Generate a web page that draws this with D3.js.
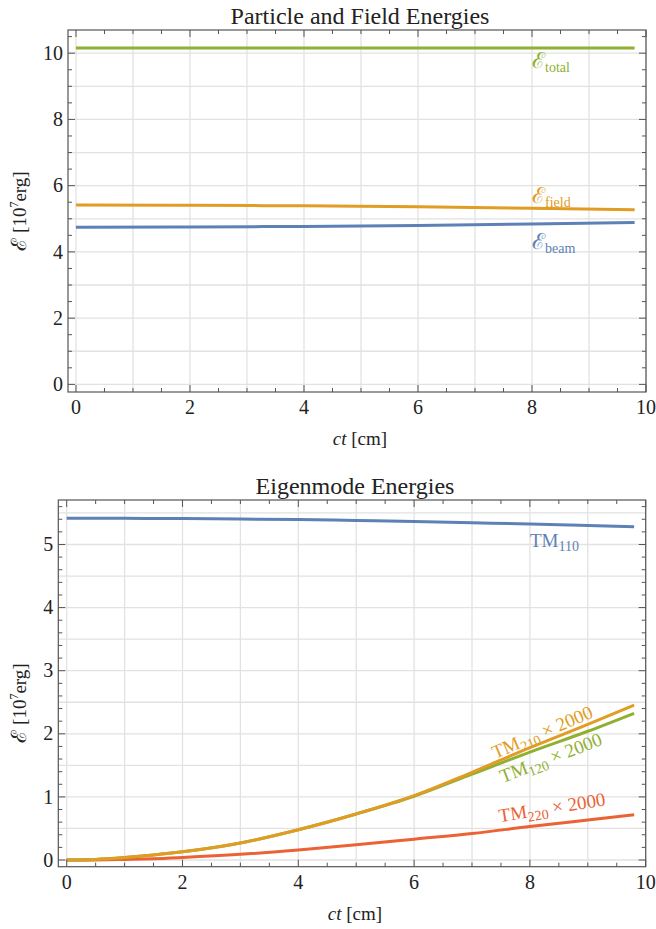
<!DOCTYPE html>
<html>
<head>
<meta charset="utf-8">
<script src="https://cdn.jsdelivr.net/npm/d3@7"></script>
<style>
  body { margin: 0; background: #fff; }
</style>
</head>
<body>
<svg id="chart" width="656" height="929"></svg>
<script>
// ---- data ----
const ctTop = [0, 2, 4, 6, 8, 9.8];
const eTotal = [10.16, 10.16, 10.16, 10.16, 10.16, 10.16];
const eField = [5.415, 5.405, 5.39, 5.36, 5.32, 5.27];
const eBeam = [4.745, 4.755, 4.77, 4.80, 4.84, 4.89];

const ctBottom = [0, 0.5, 1, 1.5, 2, 3, 4, 5, 6, 7, 8, 9, 9.8];
const tm110 = [5.415, 5.415, 5.414, 5.412, 5.41, 5.403, 5.395, 5.38, 5.365, 5.345, 5.325, 5.30, 5.28];
const tm210 = [0, 0.01, 0.04, 0.08, 0.13, 0.27, 0.48, 0.73, 1.02, 1.39, 1.78, 2.15, 2.456];
const tm120 = [0, 0.01, 0.04, 0.08, 0.13, 0.27, 0.48, 0.73, 1.01, 1.36, 1.71, 2.04, 2.325];
const tm220 = [0, 0.002, 0.01, 0.02, 0.04, 0.09, 0.16, 0.24, 0.33, 0.42, 0.53, 0.635, 0.718];

const xTickLabels = [0, 2, 4, 6, 8, 10];
const yTickLabelsTop = [0, 2, 4, 6, 8, 10];
const yTickLabelsBottom = [0, 1, 2, 3, 4, 5];

const blue = '#5e81b5', orange = '#e19c24', green = '#8fb032', red = '#eb6235';
const serif = "'Liberation Serif', 'Times New Roman', Times, 'DejaVu Serif', serif";

const svg = d3.select('#chart')
  .attr('font-family', serif)
  .style('font-family', serif);

function drawPanel(p) {
  const x = d3.scaleLinear().domain(p.xDomain).range([p.left, p.right]);
  const y = d3.scaleLinear().domain(p.yDomain).range([p.bottom, p.top]);
  const g = svg.append('g').attr('fill', '#222');

  // grid
  g.selectAll('.gx').data(d3.range(0, 10.001, 1)).enter().append('line')
    .attr('x1', d => x(d)).attr('x2', d => x(d))
    .attr('y1', p.top).attr('y2', p.bottom)
    .attr('stroke', '#e2e2e2').attr('stroke-width', 1.3);
  g.selectAll('.gy').data(p.gridY).enter().append('line')
    .attr('y1', d => y(d)).attr('y2', d => y(d))
    .attr('x1', p.left).attr('x2', p.right)
    .attr('stroke', '#e2e2e2').attr('stroke-width', 1.3);

  // series
  const line = d3.line().x(d => x(d[0])).y(d => y(d[1])).curve(d3.curveMonotoneX);
  p.series.forEach(s => {
    g.append('path')
      .datum(p.xs.map((v, i) => [v, s.values[i]]))
      .attr('fill', 'none').attr('stroke', s.color)
      .attr('stroke-width', 3).attr('d', line);
  });

  // frame
  g.append('rect')
    .attr('x', p.left).attr('y', p.top)
    .attr('width', p.right - p.left).attr('height', p.bottom - p.top)
    .attr('fill', 'none').attr('stroke', '#555').attr('stroke-width', 1.2);

  // ticks
  const xMinor = d3.range(0, 10.001, 0.5);
  g.selectAll('.tx').data(xMinor).enter().append('path')
    .attr('d', d => {
      const len = xTickLabels.includes(d) ? 7 : 4;
      return `M${x(d)},${p.bottom}v${-len}M${x(d)},${p.top}v${len}`;
    })
    .attr('stroke', '#555').attr('stroke-width', 1);
  g.selectAll('.ty').data(p.minorY).enter().append('path')
    .attr('d', d => {
      const len = p.yTicks.some(t => Math.abs(t - d) < 1e-6) ? 7 : 4;
      return `M${p.left},${y(d)}h${len}M${p.right},${y(d)}h${-len}`;
    })
    .attr('stroke', '#555').attr('stroke-width', 1);

  // tick labels
  g.selectAll('.lx').data(xTickLabels).enter().append('text')
    .attr('x', d => x(d)).attr('y', p.bottom + 22)
    .attr('text-anchor', 'middle').attr('font-size', 20)
    .text(d => d);
  g.selectAll('.ly').data(p.yTicks).enter().append('text')
    .attr('x', p.left - 5).attr('y', d => y(d)).attr('dy', '0.33em')
    .attr('text-anchor', 'end').attr('font-size', 20)
    .text(d => d);

  // title
  g.append('text')
    .attr('x', (p.left + p.right) / 2 + 3).attr('y', p.top - 6)
    .attr('text-anchor', 'middle').attr('font-size', 24)
    .text(p.title);

  // x label
  const xl = g.append('text')
    .attr('x', (p.left + p.right) / 2 + 3).attr('y', p.bottom + 53)
    .attr('text-anchor', 'middle').attr('font-size', 19);
  xl.append('tspan').attr('font-style', 'italic').text('ct');
  xl.append('tspan').text(' [cm]');

  // y label
  const yl = g.append('text')
    .attr('transform', `translate(26,${p.yLabelCenter}) rotate(-90)`)
    .attr('text-anchor', 'middle').attr('font-size', 19);
  yl.append('tspan').attr('font-size', 21).text('ℰ');
  yl.append('tspan').text(' [10');
  yl.append('tspan').attr('font-size', 12).attr('dy', -8).text('7');
  yl.append('tspan').attr('dy', 8).text('erg]');

  // series labels
  p.labels.forEach(l => {
    const t = g.append('text')
      .attr('transform', `translate(${x(l.x)},${y(l.y)}) rotate(${l.angle || 0})`)
      .attr('fill', l.color).attr('font-size', 19);
    if (l.script) {
      t.append('tspan').attr('font-size', 22).text('ℰ');
    } else {
      t.append('tspan').text('TM');
    }
    t.append('tspan').attr('font-size', 14).attr('dy', 4).text(l.sub);
    if (l.tail) t.append('tspan').attr('dy', -4).text(l.tail);
  });
}

drawPanel({
  title: 'Particle and Field Energies',
  left: 68, right: 646, top: 30, bottom: 392,
  xDomain: [-0.14, 10], yDomain: [-0.23, 10.70],
  gridY: d3.range(0, 10.001, 1),
  minorY: d3.range(0, 10.6, 0.5),
  yTicks: yTickLabelsTop,
  yLabelCenter: 211,
  xs: ctTop,
  series: [
    { values: eTotal, color: green },
    { values: eField, color: orange },
    { values: eBeam, color: blue }
  ],
  labels: [
    { x: 8, y: 9.55, color: green, script: true, sub: 'total' },
    { x: 8, y: 5.48, color: orange, script: true, sub: 'field' },
    { x: 8, y: 4.09, color: blue, script: true, sub: 'beam' }
  ]
});

drawPanel({
  title: 'Eigenmode Energies',
  left: 58.3, right: 645.7, top: 500, bottom: 866.7,
  xDomain: [-0.145, 10], yDomain: [-0.106, 5.705],
  gridY: d3.range(0, 5.51, 0.5),
  minorY: d3.range(0, 5.61, 0.2),
  yTicks: yTickLabelsBottom,
  yLabelCenter: 703,
  xs: ctBottom,
  series: [
    { values: tm110, color: blue },
    { values: tm220, color: red },
    { values: tm120, color: green },
    { values: tm210, color: orange }
  ],
  labels: [
    { x: 8, y: 4.96, color: blue, sub: '110' },
    { x: 7.40, y: 1.60, color: orange, sub: '210', tail: ' × 2000', angle: -23 },
    { x: 7.53, y: 1.22, color: green, sub: '120', tail: ' × 2000', angle: -21 },
    { x: 7.48, y: 0.60, color: red, sub: '220', tail: ' × 2000', angle: -9 }
  ]
});
</script>
</body>
</html>
